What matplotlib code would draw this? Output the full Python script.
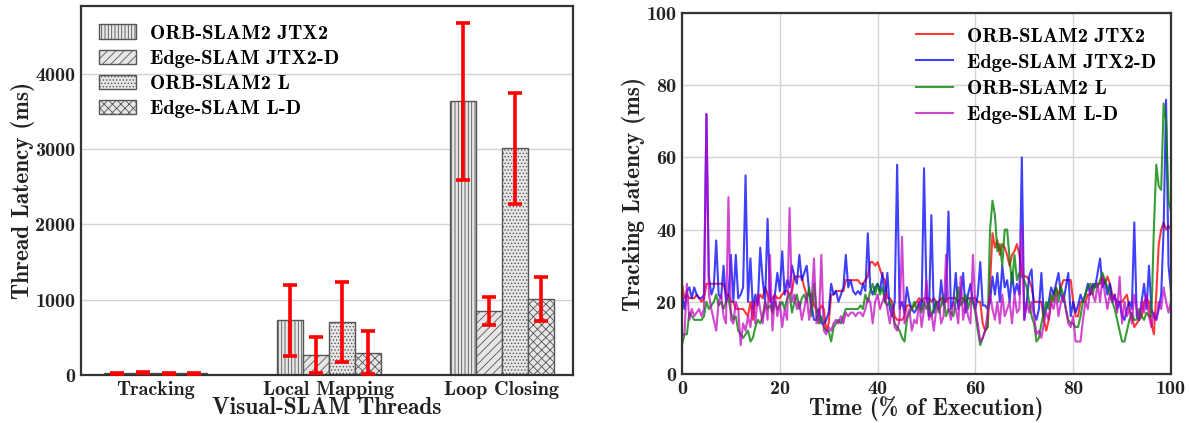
import numpy as np
import matplotlib
matplotlib.use("Agg")
import matplotlib.pyplot as plt

plt.rcParams['font.family'] = ['cmb10', 'DejaVu Serif']
plt.rcParams['hatch.linewidth'] = 0.6

# ---- left: per-thread latency ----
threads = ['Tracking', 'Local Mapping', 'Loop Closing']
names = ['ORB-SLAM2 JTX2', 'Edge-SLAM JTX2-D', 'ORB-SLAM2 L', 'Edge-SLAM L-D']
means = [[25, 726, 3633],
         [28, 265, 854],
         [24, 703, 3009],
         [22, 296, 1009]]
errs = [[6, 470, 1042],
        [8, 237, 186],
        [6, 533, 733],
        [5, 288, 292]]
hatches = ['|||||', '////', '.....', 'xxxx']

# ---- right: tracking latency over time (sampled every 0.5 %) ----
edge_jtx2 = [22, 18, 23, 24, 21, 24, 22, 21, 21, 22,
             72, 27, 22, 24, 37, 22, 21, 30, 20, 22,
             33, 20, 33, 21, 22, 24, 55, 20, 32, 18,
             22, 19, 35, 26, 20, 43, 22, 18, 22, 28,
             23, 34, 22, 26, 24, 30, 27, 25, 33, 26,
             28, 30, 23, 19, 15, 15, 18, 14, 14, 15,
             17, 25, 22, 23, 20, 22, 24, 33, 24, 26,
             23, 22, 23, 22, 25, 23, 39, 24, 22, 24,
             25, 23, 28, 20, 28, 18, 16, 20, 58, 18,
             20, 17, 24, 20, 18, 17, 18, 20, 18, 57,
             22, 16, 44, 17, 20, 18, 26, 19, 21, 45,
             18, 20, 28, 18, 22, 28, 17, 22, 25, 20,
             18, 22, 31, 19, 19, 18, 20, 27, 22, 28,
             20, 30, 24, 26, 20, 28, 22, 25, 22, 60,
             15, 20, 27, 29, 17, 15, 18, 28, 16, 18,
             20, 24, 22, 25, 28, 22, 20, 24, 28, 16,
             20, 17, 19, 22, 20, 22, 25, 22, 25, 24,
             28, 32, 24, 26, 22, 25, 20, 22, 18, 20,
             16, 15, 18, 20, 18, 42, 16, 15, 20, 25,
             18, 30, 18, 16, 15, 18, 22, 40, 76, 30,
             23]
orb_jtx2 = [25, 21, 22, 21, 21, 21, 22, 21, 20, 21,
            25, 25, 25, 25, 25, 25, 25, 25, 22, 22,
            20, 20, 18, 18, 18, 18, 17, 16, 20, 15,
            20, 20, 22, 21, 24, 22, 20, 21, 22, 21,
            21, 22, 23, 23, 22, 23, 27, 27, 27, 27,
            24, 22, 22, 22, 19, 18, 17, 19, 18, 12,
            14, 22, 22, 23, 23, 23, 23, 26, 26, 26,
            26, 26, 26, 25, 25, 26, 27, 31, 31, 30,
            31, 29, 27, 26, 21, 21, 20, 16, 15, 15,
            15, 16, 19, 19, 18, 19, 20, 21, 20, 21,
            21, 21, 20, 21, 20, 20, 21, 21, 20, 21,
            21, 21, 21, 20, 21, 21, 20, 21, 21, 21,
            21, 20, 20, 14, 12, 13, 25, 39, 35, 37,
            33, 36, 35, 33, 30, 33, 34, 36, 33, 28,
            27, 27, 26, 24, 20, 20, 20, 20, 15, 12,
            15, 20, 22, 24, 22, 24, 26, 26, 26, 26,
            20, 16, 16, 20, 20, 20, 22, 22, 24, 25,
            25, 25, 27, 25, 27, 25, 22, 21, 20, 20,
            20, 21, 22, 18, 16, 13, 14, 15, 16, 20,
            21, 20, 14, 11, 22, 36, 40, 42, 40, 41,
            40]
orb_l = [8, 11, 11, 17, 16, 15, 15, 15, 15, 16,
         20, 18, 19, 20, 22, 19, 20, 18, 20, 21,
         17, 15, 16, 12, 11, 10, 11, 12, 9, 10,
         13, 15, 14, 16, 20, 18, 19, 17, 20, 18,
         19, 20, 18, 21, 22, 17, 20, 22, 18, 21,
         22, 20, 24, 16, 25, 18, 14, 16, 13, 12,
         12, 9, 13, 14, 15, 14, 16, 18, 18, 18,
         18, 18, 18, 19, 18, 22, 20, 23, 25, 22,
         25, 22, 24, 20, 19, 20, 18, 14, 13, 12,
         10, 9, 15, 17, 18, 20, 18, 19, 17, 20,
         18, 20, 16, 18, 20, 17, 19, 22, 16, 18,
         17, 16, 20, 24, 19, 20, 22, 18, 21, 20,
         17, 12, 8, 10, 12, 13, 40, 48, 44, 34,
         36, 30, 40, 40, 32, 25, 33, 26, 28, 27,
         26, 24, 20, 16, 14, 9, 10, 14, 17, 20,
         18, 22, 20, 24, 20, 24, 22, 18, 15, 14,
         14, 13, 13, 16, 20, 22, 24, 25, 22, 25,
         24, 26, 28, 26, 24, 22, 20, 18, 15, 12,
         9, 9, 12, 15, 17, 15, 15, 18, 16, 15,
         17, 16, 16, 40, 58, 52, 51, 75, 70, 48,
         45]
edge_l = [11, 11, 25, 15, 18, 16, 17, 18, 16, 18,
          72, 22, 18, 15, 12, 20, 22, 16, 14, 49,
          15, 14, 20, 18, 8, 14, 12, 16, 13, 20,
          14, 22, 18, 14, 20, 15, 33, 12, 22, 16,
          20, 13, 18, 15, 46, 20, 22, 18, 20, 15,
          18, 22, 15, 20, 32, 14, 15, 33, 12, 11,
          13, 12, 14, 15, 14, 16, 14, 17, 16, 17,
          17, 16, 17, 17, 16, 18, 21, 20, 14, 20,
          22, 18, 20, 22, 18, 14, 19, 13, 12, 15,
          38, 14, 16, 18, 12, 15, 14, 20, 13, 18,
          26, 15, 17, 12, 18, 20, 14, 16, 33, 18,
          15, 20, 18, 14, 27, 15, 20, 16, 14, 33,
          18, 14, 9, 10, 12, 17, 22, 18, 15, 20,
          14, 22, 16, 18, 20, 14, 22, 17, 18, 41,
          15, 20, 17, 20, 16, 11, 12, 10, 14, 17,
          15, 20, 18, 22, 16, 20, 22, 18, 14, 13,
          16, 9, 9, 9, 15, 20, 18, 24, 22, 20,
          25, 20, 27, 22, 18, 22, 20, 22, 17, 27,
          14, 20, 16, 18, 14, 22, 18, 15, 20, 17,
          22, 16, 13, 17, 15, 20, 18, 24, 20, 17,
          20]
time_pct = np.arange(len(orb_jtx2)) * 0.5

fig = plt.figure(figsize=(11.9, 4.23), dpi=100)
txt = '#222222'
spine_c = '#333333'
grid_c = '#d3d3d3'

ax1 = fig.add_axes([0.0681, 0.1135, 0.4134, 0.8723])
x = np.arange(len(threads))
w = 0.15
for k in range(4):
    ax1.bar(x + (k - 1.5) * w, means[k], w, color='#e6e6e6', edgecolor='#555555',
            linewidth=1.0, hatch=hatches[k], label=names[k], zorder=2)
    ax1.errorbar(x + (k - 1.5) * w, means[k], yerr=errs[k], fmt='none', ecolor='red',
                 elinewidth=2.6, capsize=5, capthick=2.6, zorder=3)
ax1.set_xlim(-0.43, 2.41)
ax1.set_ylim(0, 4900)
ax1.set_yticks([0, 1000, 2000, 3000, 4000])
ax1.set_xticks(x)
ax1.set_xticklabels(threads)
ax1.yaxis.grid(True, color=grid_c, linewidth=1.0, zorder=0)
ax1.set_axisbelow(True)
ax1.set_xlabel('Visual-SLAM Threads', fontsize=16.8, color=txt, labelpad=-1)
ax1.set_ylabel('Thread Latency (ms)', fontsize=16.8, color=txt, labelpad=0)
ax1.legend(loc='upper left', frameon=False, fontsize=14.7, labelspacing=0.34,
           handlelength=1.8, handletextpad=0.7, borderaxespad=0.5)

ax2 = fig.add_axes([0.5731, 0.1158, 0.4109, 0.8535])
ax2.plot(time_pct, orb_jtx2, color='r', alpha=0.78, lw=1.5, label=names[0])
ax2.plot(time_pct, edge_jtx2, color='b', alpha=0.75, lw=1.5, label=names[1])
ax2.plot(time_pct, orb_l, color='g', alpha=0.78, lw=1.5, label=names[2])
ax2.plot(time_pct, edge_l, color='m', alpha=0.72, lw=1.5, label=names[3])
ax2.set_xlim(0, 100)
ax2.set_ylim(0, 100)
ax2.set_xticks([0, 20, 40, 60, 80, 100])
ax2.set_yticks([0, 20, 40, 60, 80, 100])
ax2.grid(True, color=grid_c, linewidth=1.0)
ax2.set_axisbelow(True)
ax2.set_xlabel('Time (% of Execution)', fontsize=16.8, color=txt, labelpad=-1)
ax2.set_ylabel('Tracking Latency (ms)', fontsize=16.8, color=txt, labelpad=0)
ax2.legend(loc='upper right', frameon=False, fontsize=14.7, labelspacing=0.38,
           handlelength=1.8, handletextpad=0.7, borderaxespad=0.3)

for ax in (ax1, ax2):
    for s in ax.spines.values():
        s.set_color(spine_c)
        s.set_linewidth(1.6)
    ax.tick_params(length=0, labelsize=14.5, colors=txt, pad=4)

fig.savefig('out.png', dpi=100)
